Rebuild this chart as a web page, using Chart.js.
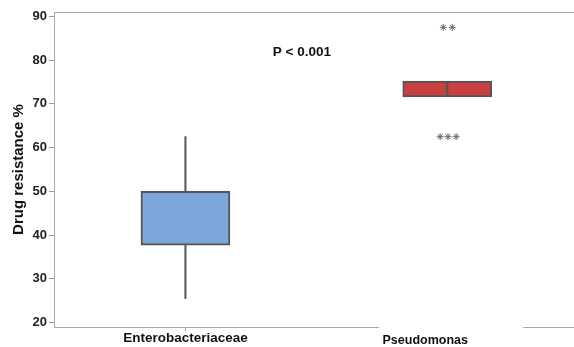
<!DOCTYPE html>
<html>
<head>
<meta charset="utf-8">
<script src="https://cdn.jsdelivr.net/npm/chart.js@4.4.1/dist/chart.umd.min.js"></script>
<style>
  html, body { margin: 0; padding: 0; background: #fff; }
  #wrap { width: 574px; height: 347px; }
</style>
</head>
<body>
<div id="wrap"><canvas id="boxChart"></canvas></div>
<script>
const groups = ['Enterobacteriaceae', 'Pseudomonas'];
const groupPos = [1, 2];
const whiskerLow = [25.4, 71.6];
const boxLow = [37.7, 71.6];
const boxHigh = [50.0, 75.2];
const whiskerHigh = [62.6, 75.2];
const boxColors = ['#7ba7da', '#c94040'];
const outliersX = [1.985, 2.019, 1.973, 2.003, 2.034];
const outliersY = [87.5, 87.5, 62.5, 62.5, 62.5];
const yTicks = [20, 30, 40, 50, 60, 70, 80, 90];
const pValueText = 'P < 0.001';
const pValuePos = { x: 1.445, y: 81.8 };

const font = 'Liberation Sans, Arial, sans-serif';

const boxData = groupPos.map((x, i) => ({ x: x, y: [boxLow[i], boxHigh[i]] }));
const whiskerSets = groupPos.map((x, i) => ({
    type: 'scatter',
    showLine: true,
    data: [{ x: x, y: whiskerLow[i] }, { x: x, y: whiskerHigh[i] }],
    borderColor: '#555',
    borderWidth: 2,
    pointRadius: 0,
    order: i === 1 ? 0 : 3
}));

const extras = {
    id: 'extras',
    afterDraw(chart) {
        const c = chart.ctx;
        const xs = chart.scales.x;
        const ys = chart.scales.y;
        const area = chart.chartArea;
        c.save();
        c.strokeStyle = '#aaa';
        c.lineWidth = 1;
        // top frame line and bottom line to the right edge
        c.beginPath();
        c.moveTo(area.left, area.top + 0.5);
        c.lineTo(chart.width, area.top + 0.5);
        c.moveTo(area.left, Math.round(area.bottom) + 0.5);
        c.lineTo(chart.width, Math.round(area.bottom) + 0.5);
        c.stroke();
        // tick under first category
        const tx = Math.round(xs.getPixelForValue(groupPos[0])) + 0.5;
        c.beginPath();
        c.moveTo(tx, area.bottom);
        c.lineTo(tx, area.bottom + 4);
        c.stroke();
        // white patch on bottom axis under the second label
        const x0 = xs.getPixelForValue(1.74), x1 = xs.getPixelForValue(2.29);
        c.fillStyle = '#fff';
        c.fillRect(x0, area.bottom - 2, x1 - x0, 20);
        // category labels
        c.fillStyle = '#111';
        c.textAlign = 'center';
        c.textBaseline = 'middle';
        c.font = 'bold 13.5px ' + font;
        c.fillText(groups[0], xs.getPixelForValue(groupPos[0]), area.bottom + 11);
        c.font = 'bold 12.5px ' + font;
        c.fillText(groups[1], xs.getPixelForValue(groupPos[1]) - 22, area.bottom + 14);
        // p value
        c.font = 'bold 13.5px ' + font;
        c.fillText(pValueText, xs.getPixelForValue(pValuePos.x), ys.getPixelForValue(pValuePos.y));
        c.restore();
    }
};

new Chart(document.getElementById('boxChart').getContext('2d'), {
    data: {
        datasets: [{
            type: 'bar',
            data: boxData,
            backgroundColor: boxColors,
            borderColor: '#555',
            borderWidth: 2,
            borderSkipped: false,
            barThickness: 89,
            order: 2
        }, ...whiskerSets, {
            type: 'scatter',
            data: outliersX.map((x, i) => ({ x: x, y: outliersY[i] })),
            pointStyle: 'star',
            radius: 3.5,
            borderColor: '#666',
            borderWidth: 1,
            order: 0
        }]
    },
    options: {
        responsive: true,
        maintainAspectRatio: false,
        animation: false,
        layout: { padding: { top: 12, right: 0, bottom: 0, left: 0 } },
        plugins: { legend: { display: false }, tooltip: { enabled: false } },
        scales: {
            x: {
                type: 'linear',
                min: 0.498,
                max: 2.465,
                offset: false,
                afterFit(scale) { scale.height = 20; },
                grid: { display: false, drawTicks: false },
                border: { display: true, color: '#aaa' },
                ticks: { display: false }
            },
            y: {
                min: 19,
                max: 91,
                afterFit(scale) { scale.width = 54; },
                afterBuildTicks(scale) { scale.ticks = yTicks.map(v => ({ value: v })); },
                grid: { display: true, drawOnChartArea: false, drawTicks: true, tickLength: 5, color: '#999' },
                border: { display: true, color: '#aaa' },
                ticks: {
                    color: '#222',
                    padding: 2,
                    font: { family: font, size: 13, weight: 'bold' }
                },
                title: {
                    display: true,
                    text: 'Drug resistance %',
                    color: '#111',
                    padding: { top: 10, bottom: 0 },
                    font: { family: font, size: 15, weight: 'bold' }
                }
            }
        }
    },
    plugins: [extras]
});
</script>
</body>
</html>
